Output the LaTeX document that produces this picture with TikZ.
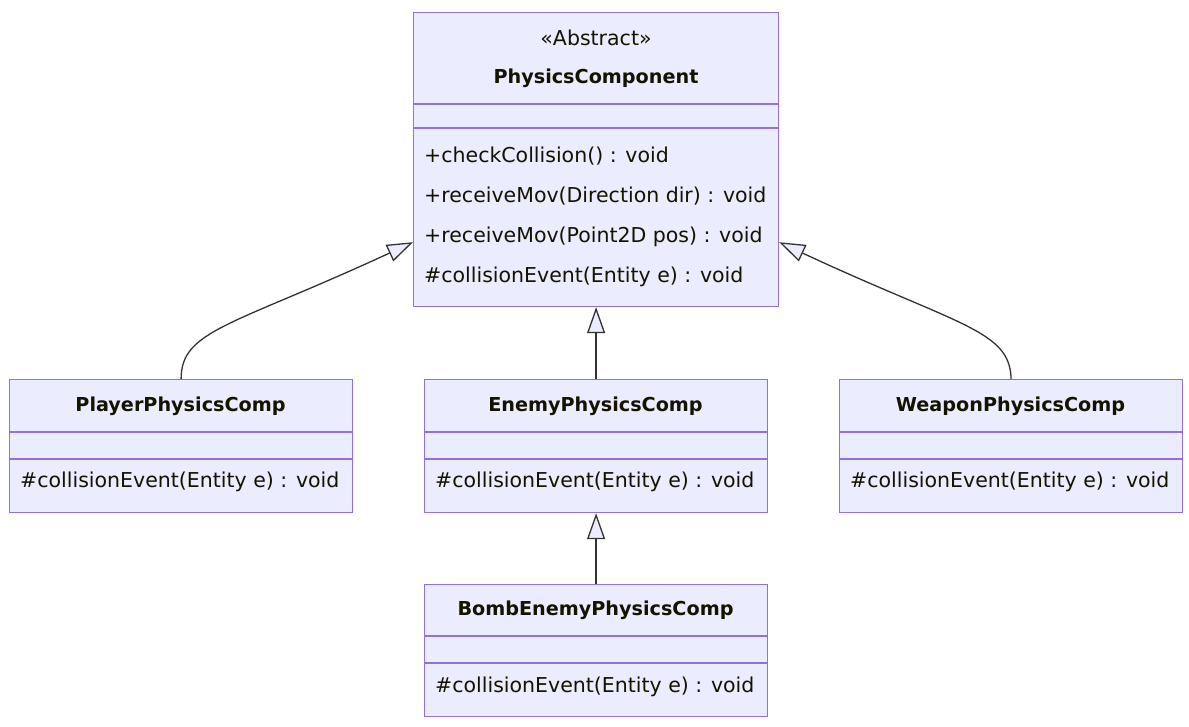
\documentclass[tikz,border=0pt]{standalone}
\usepackage{fontspec}
\setmainfont{DejaVu Sans}
\usetikzlibrary{arrows.meta,calc}
\definecolor{boxfill}{HTML}{ECECFF}
\definecolor{boxline}{HTML}{9370DB}
\definecolor{edgecol}{HTML}{333333}
\definecolor{txt}{HTML}{131300}
\begin{document}
\begin{tikzpicture}[x=1pt,y=-1pt,
  cls/.style={draw=boxline, fill=boxfill, line width=1.2pt, inner sep=0pt, anchor=north west},
  divl/.style={draw=boxline, line width=1.2pt},
  lbl/.style={text=txt, font=\fontsize{20.5}{24}\selectfont, inner sep=0pt},
  ttl/.style={lbl, font=\bfseries\fontsize{19.2}{24}\selectfont},
  meth/.style={lbl, anchor=west},
  inh/.style={draw=edgecol, line width=1.3pt, -{Triangle[length=26pt, width=18pt, fill=boxfill]}}]
\useasboundingbox (0,0) rectangle (1189,727);

% PhysicsComponent
\node[cls, minimum width=365pt, minimum height=294pt] (pc) at (413,12) {};
\draw[divl] ($(pc.north west)+(0,92)$) -- ($(pc.north east)+(0,92)$);
\draw[divl] ($(pc.north west)+(0,116)$) -- ($(pc.north east)+(0,116)$);
\node[lbl] (pcst) at (596,38) {«Abstract»};
\node[ttl] (pct) at (596,78) {PhysicsComponent};
\node[meth] (pcm1) at (424,156) {+checkCollision() : void};
\node[meth] (pcm2) at (424,196) {+receiveMov(Direction dir) : void};
\node[meth] (pcm3) at (424,237) {+receiveMov(Point2D pos) : void};
\node[meth] (pcm4) at (424,277) {\#collisionEvent(Entity e) : void};

% PlayerPhysicsComp
\node[cls, minimum width=343pt, minimum height=133pt] (pl) at (9,379) {};
\draw[divl] ($(pl.north west)+(0,53)$) -- ($(pl.north east)+(0,53)$);
\draw[divl] ($(pl.north west)+(0,80)$) -- ($(pl.north east)+(0,80)$);
\node[ttl] (plt) at (180.5,406) {PlayerPhysicsComp};
\node[meth] (plm) at (20,482) {\#collisionEvent(Entity e) : void};

% EnemyPhysicsComp
\node[cls, minimum width=343pt, minimum height=133pt] (en) at (424,379) {};
\draw[divl] ($(en.north west)+(0,53)$) -- ($(en.north east)+(0,53)$);
\draw[divl] ($(en.north west)+(0,80)$) -- ($(en.north east)+(0,80)$);
\node[ttl] (ent) at (595.5,406) {EnemyPhysicsComp};
\node[meth] (enm) at (435,482) {\#collisionEvent(Entity e) : void};

% WeaponPhysicsComp
\node[cls, minimum width=343pt, minimum height=133pt] (wp) at (839,379) {};
\draw[divl] ($(wp.north west)+(0,53)$) -- ($(wp.north east)+(0,53)$);
\draw[divl] ($(wp.north west)+(0,80)$) -- ($(wp.north east)+(0,80)$);
\node[ttl] (wpt) at (1010.5,406) {WeaponPhysicsComp};
\node[meth] (wpm) at (850,482) {\#collisionEvent(Entity e) : void};

% BombEnemyPhysicsComp
\node[cls, minimum width=343pt, minimum height=132pt] (bo) at (424,584) {};
\draw[divl] ($(bo.north west)+(0,52)$) -- ($(bo.north east)+(0,52)$);
\draw[divl] ($(bo.north west)+(0,79)$) -- ($(bo.north east)+(0,79)$);
\node[ttl] (bot) at (595.5,610) {BombEnemyPhysicsComp};
\node[meth] (bom) at (435,687) {\#collisionEvent(Entity e) : void};

% attachment points
\coordinate (pcl) at ($(pc.south west)+(0,-65)$);
\coordinate (pcr) at ($(pc.south east)+(0,-65)$);

% inheritance edges
\draw[inh] (pl.north) .. controls (181,330) and (232,326) .. (pcl);
\draw[inh] (wp.north) .. controls (1010,330) and (959,326) .. (pcr);
\draw[inh] (en.north) -- (pc.south -| en.north);
\draw[inh] (bo.north) -- (en.south -| bo.north);
\end{tikzpicture}
\end{document}
